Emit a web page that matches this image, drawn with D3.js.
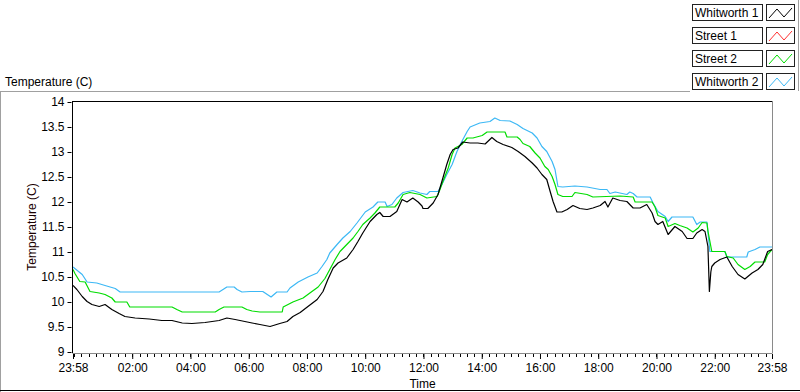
<!DOCTYPE html>
<html><head><meta charset="utf-8">
<script src="https://cdn.jsdelivr.net/npm/d3@7"></script>
<style>
body{margin:0;background:#fff;}
svg{display:block;font-family:"Liberation Sans",Arial,sans-serif;}
</style></head>
<body><svg id="c" width="800" height="392"></svg>
<script>
// ---- data ----
const seriesNames = ["Whitworth 1","Street 1","Street 2","Whitworth 2"];
const seriesColors = ["#000000","#ff3030","#00dd00","#3cb8f5"];
const xTickMinutes = [0,122,242,362,482,602,722,842,962,1082,1202,1322,1440];
const xTickLabels = ["23:58","02:00","04:00","06:00","08:00","10:00","12:00","14:00","16:00","18:00","20:00","22:00","23:58"];
const yTicks = [9,9.5,10,10.5,11,11.5,12,12.5,13,13.5,14];
const yTickLabels = ["9","9.5","10","10.5","11","11.5","12","12.5","13","13.5","14"];
// [minutes since 23:58, temperature C]
const whitworth1 = [[0,10.33],[8,10.25],[19,10.11],[29,10.01],[39,9.95],[54,9.91],[66,9.95],[80,9.85],[95,9.77],[107,9.71],[128,9.68],[157,9.66],[183,9.63],[204,9.63],[225,9.58],[245,9.57],[272,9.59],[301,9.63],[317,9.68],[334,9.65],[354,9.61],[369,9.58],[385,9.55],[406,9.51],[426,9.57],[441,9.61],[453,9.71],[468,9.79],[484,9.91],[503,10.05],[515,10.21],[525,10.45],[536,10.68],[546,10.78],[564,10.88],[577,11.05],[587,11.21],[597,11.38],[612,11.61],[626,11.75],[632,11.79],[639,11.71],[653,11.71],[667,11.81],[678,12.05],[688,12.0],[700,12.08],[711,12.0],[719,11.92],[721,11.87],[731,11.87],[742,11.98],[752,12.15],[762,12.48],[770,12.75],[777,12.95],[783,13.05],[793,13.08],[803,13.2],[818,13.18],[834,13.18],[849,13.16],[863,13.29],[873,13.21],[886,13.15],[904,13.09],[917,13.01],[931,12.91],[946,12.78],[956,12.68],[966,12.55],[976,12.45],[983,12.21],[989,12.01],[997,11.8],[1007,11.8],[1018,11.85],[1030,11.93],[1044,11.87],[1059,11.85],[1071,11.88],[1086,11.93],[1096,12.01],[1102,11.9],[1112,12.08],[1127,12.03],[1141,12.01],[1154,11.88],[1168,11.88],[1182,11.95],[1193,11.78],[1199,11.61],[1205,11.55],[1215,11.61],[1226,11.35],[1240,11.51],[1255,11.41],[1265,11.27],[1277,11.27],[1285,11.38],[1296,11.45],[1302,11.41],[1308,11.11],[1311,10.21],[1314,10.6],[1316,10.71],[1322,10.78],[1333,10.85],[1347,10.9],[1358,10.71],[1370,10.55],[1384,10.46],[1399,10.58],[1411,10.65],[1421,10.75],[1431,11.01],[1440,11.05]];
const street1 = [];
const street2 = [[0,10.65],[4,10.57],[14,10.41],[25,10.4],[35,10.21],[54,10.18],[66,10.15],[80,10.08],[87,10.0],[111,10.0],[117,9.9],[204,9.9],[214,9.85],[225,9.8],[293,9.8],[301,9.85],[311,9.9],[348,9.9],[358,9.85],[369,9.82],[385,9.8],[431,9.8],[433,9.9],[453,10.0],[474,10.08],[488,10.18],[505,10.3],[519,10.47],[529,10.65],[540,10.85],[550,11.01],[564,11.15],[577,11.28],[587,11.41],[597,11.55],[612,11.68],[622,11.78],[632,11.9],[663,11.9],[670,11.98],[680,12.15],[694,12.19],[715,12.15],[729,12.08],[750,12.11],[756,12.25],[762,12.41],[773,12.68],[781,12.95],[787,13.08],[801,13.15],[812,13.28],[824,13.28],[843,13.33],[853,13.4],[890,13.4],[894,13.3],[915,13.3],[921,13.25],[927,13.17],[941,13.11],[952,12.98],[962,12.88],[972,12.71],[979,12.65],[987,12.51],[993,12.35],[999,12.15],[1009,12.11],[1028,12.11],[1034,12.19],[1059,12.15],[1071,12.1],[1127,12.12],[1154,12.1],[1158,12.0],[1193,12.0],[1199,11.9],[1205,11.73],[1220,11.68],[1226,11.51],[1240,11.57],[1250,11.53],[1265,11.48],[1277,11.4],[1288,11.48],[1296,11.59],[1306,11.58],[1308,11.42],[1316,11.01],[1343,11.01],[1347,10.91],[1360,10.88],[1370,10.75],[1384,10.65],[1395,10.71],[1405,10.8],[1425,10.8],[1431,10.95],[1440,11.05]];
const whitworth2 = [[0,10.7],[19,10.55],[29,10.4],[49,10.38],[66,10.33],[87,10.27],[97,10.2],[301,10.2],[317,10.3],[332,10.3],[338,10.25],[348,10.2],[365,10.21],[391,10.21],[408,10.1],[420,10.2],[441,10.2],[447,10.28],[464,10.4],[484,10.5],[503,10.58],[513,10.71],[523,10.85],[529,10.98],[544,11.15],[556,11.28],[571,11.41],[585,11.58],[602,11.8],[618,11.9],[628,12.0],[643,12.0],[647,11.91],[657,11.95],[667,12.08],[680,12.19],[700,12.23],[715,12.18],[729,12.15],[735,12.21],[752,12.21],[760,12.35],[770,12.55],[781,12.75],[791,13.01],[801,13.21],[812,13.41],[818,13.5],[838,13.58],[859,13.61],[869,13.68],[880,13.63],[900,13.62],[915,13.55],[927,13.47],[946,13.38],[956,13.28],[966,13.11],[976,13.01],[987,12.81],[993,12.65],[999,12.31],[1009,12.3],[1034,12.32],[1059,12.3],[1086,12.25],[1100,12.25],[1106,12.17],[1117,12.2],[1141,12.15],[1147,12.2],[1154,12.17],[1162,12.1],[1189,12.1],[1195,11.98],[1205,11.81],[1220,11.71],[1226,11.61],[1234,11.7],[1277,11.7],[1285,11.55],[1292,11.6],[1306,11.6],[1312,11.01],[1343,11.01],[1347,10.9],[1388,10.9],[1391,11.0],[1405,11.05],[1415,11.1],[1440,11.1]];
const seriesData = [whitworth1, street1, street2, whitworth2];

// ---- chart ----
const svg = d3.select("#c");
const L = 72.5, R = 772, T = 102, B = 352;
const x = d3.scaleLinear().domain([0,1440]).range([73,772]);
const y = d3.scaleLinear().domain([9,14]).range([B,T]);

// outer panel lines
svg.append("line").attr("x1",0.5).attr("x2",0.5).attr("y1",91).attr("y2",392).attr("stroke","#a0a0a0").attr("stroke-width",1);
svg.append("line").attr("x1",0).attr("x2",690).attr("y1",91.5).attr("y2",91.5).attr("stroke","#a0a0a0");
svg.append("line").attr("x1",0).attr("x2",800).attr("y1",390.5).attr("y2",390.5).attr("stroke","#000");
svg.append("line").attr("x1",798.5).attr("x2",798.5).attr("y1",0).attr("y2",91).attr("stroke","#a0a0a0");

// title
svg.append("text").attr("x",5).attr("y",86).attr("font-size",12).attr("fill","#000").text("Temperature (C)");

// plot frame
svg.append("line").attr("x1",L).attr("x2",R).attr("y1",101.5).attr("y2",101.5).attr("stroke","#000");
svg.append("line").attr("x1",772.5).attr("x2",772.5).attr("y1",101).attr("y2",353).attr("stroke","#8a8a8a");
svg.append("line").attr("x1",L).attr("x2",772.5).attr("y1",353.5).attr("y2",353.5).attr("stroke","#8a8a8a");

// y axis
const yAxis = d3.axisLeft(y).tickValues(yTicks).tickSize(5).tickPadding(3)
  .tickFormat((d,i)=>yTickLabels[i]);
const gy = svg.append("g").attr("transform",`translate(${L},0)`).call(yAxis);
gy.select(".domain").attr("d",`M0,${T-1}V${B+1}`).attr("stroke","#000");
gy.selectAll(".tick line").attr("stroke","#000").attr("x1",-1);
gy.selectAll("text").attr("font-size",12).attr("font-family","Liberation Sans, Arial, sans-serif").attr("fill","#000");

// x axis minor ticks every 15 minutes
const minor = d3.range(2,1440,15);
svg.append("g").selectAll("line").data(minor).join("line")
  .attr("x1",d=>Math.round(x(d))+0.5).attr("x2",d=>Math.round(x(d))+0.5)
  .attr("y1",354).attr("y2",357).attr("stroke","#000");
const xAxis = d3.axisBottom(x).tickValues(xTickMinutes).tickSize(5).tickPadding(4)
  .tickFormat((d,i)=>xTickLabels[i]);
const gx = svg.append("g").attr("transform",`translate(0,354)`).call(xAxis);
gx.select(".domain").remove();
gx.selectAll(".tick line").attr("stroke","#000").attr("stroke-width",1);
gx.selectAll("text").attr("font-size",12).attr("font-family","Liberation Sans, Arial, sans-serif").attr("fill","#000");

// axis titles
svg.append("text").attr("x",(73+772)/2).attr("y",388).attr("text-anchor","middle").attr("font-size",12).text("Time");
svg.append("text").attr("transform",`translate(36,${(T+B)/2}) rotate(-90)`).attr("text-anchor","middle")
  .attr("font-size",12).attr("fill","#1a0000").text("Temperature (C)");

// lines
svg.append("clipPath").attr("id","clip").append("rect").attr("x",73).attr("y",T).attr("width",699).attr("height",B-T+1);
const line = d3.line().x(d=>x(d[0])).y(d=>y(d[1]));
const order = [3,2,1,0];
svg.append("g").attr("clip-path","url(#clip)").selectAll("path").data(order).join("path")
  .attr("d",i=>seriesData[i].length?line(seriesData[i]):null)
  .attr("fill","none").attr("stroke",i=>seriesColors[i]).attr("stroke-width",1.2)
  .attr("stroke-linejoin","round");

// legend
const lg = svg.append("g");
seriesNames.forEach((n,i)=>{
  const ty = 4 + i*23;
  const g = lg.append("g").attr("transform",`translate(0,${ty})`);
  g.append("rect").attr("x",692.5).attr("y",0.5).attr("width",70).attr("height",16).attr("fill","#fff").attr("stroke","#222");
  g.append("text").attr("x",695).attr("y",13).attr("font-size",12).text(n);
  g.append("rect").attr("x",766.5).attr("y",0.5).attr("width",28).attr("height",16).attr("fill","#fff").attr("stroke","#222");
  g.append("path").attr("d","M769,14 L777,5 L784,13 L792,4").attr("fill","none").attr("stroke",seriesColors[i]).attr("stroke-width",1);
});
</script></body></html>
